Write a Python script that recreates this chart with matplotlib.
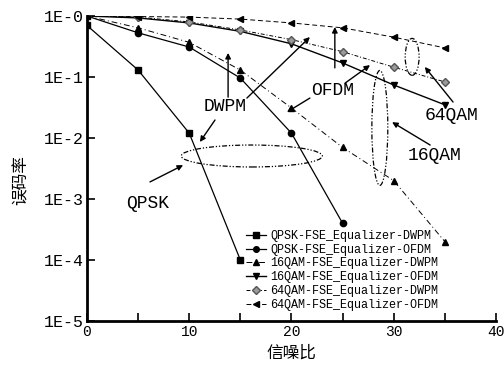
import matplotlib
matplotlib.use("Agg")
import matplotlib.pyplot as plt
from matplotlib.patches import Ellipse
import numpy as np

snr = [0, 5, 10, 15, 20, 25, 30, 35]

qpsk_dwpm_x = [0, 5, 10, 15]
qpsk_dwpm = [0.7, 0.13, 0.012, 1.0e-4]
qpsk_ofdm_x = [0, 5, 10, 15, 20, 25]
qpsk_ofdm = [1.0, 0.53, 0.31, 0.096, 0.012, 4.0e-4]
qam16_dwpm = [1.0, 0.64, 0.37, 0.13, 0.031, 0.007, 0.002, 2.0e-4]
qam16_ofdm = [1.0, 0.93, 0.77, 0.56, 0.35, 0.17, 0.074, 0.035]
qam64_dwpm = [1.0, 0.96, 0.80, 0.59, 0.41, 0.26, 0.145, 0.083]
qam64_ofdm = [1.0, 0.98, 0.96, 0.89, 0.77, 0.64, 0.45, 0.30]

labels = ["QPSK-FSE_Equalizer-DWPM", "QPSK-FSE_Equalizer-OFDM",
          "16QAM-FSE_Equalizer-DWPM", "16QAM-FSE_Equalizer-OFDM",
          "64QAM-FSE_Equalizer-DWPM", "64QAM-FSE_Equalizer-OFDM"]
ytick_vals = [1, 1e-1, 1e-2, 1e-3, 1e-4, 1e-5]
ytick_labels = ["1E-0", "1E-1", "1E-2", "1E-3", "1E-4", "1E-5"]
xtick_vals = [0, 10, 20, 30, 40]

mono = "Liberation Mono"
cjk = "Noto Sans CJK SC"

fig = plt.figure(figsize=(5.04, 3.68), dpi=100)
ax = fig.add_axes([0.1726, 0.1277, 0.8115, 0.8288])

ms = 4.5
ax.plot(qpsk_dwpm_x, qpsk_dwpm, color="black", lw=0.9, ls="-", marker="s", ms=ms, label=labels[0])
ax.plot(qpsk_ofdm_x, qpsk_ofdm, color="black", lw=0.9, ls="-", marker="o", ms=ms, label=labels[1])
ax.plot(snr, qam16_dwpm, color="black", lw=0.7, ls=(0, (6, 3, 1, 3)), marker="^", ms=ms, label=labels[2])
ax.plot(snr, qam16_ofdm, color="black", lw=1.0, ls="-", marker="v", ms=ms, label=labels[3])
ax.plot(snr, qam64_dwpm, color="black", lw=0.7, ls=(0, (4, 2, 1, 2)), marker="D", ms=4.0,
        markerfacecolor="#9a9a9a", markeredgecolor="#555555", label=labels[4])
ax.plot(snr, qam64_ofdm, color="black", lw=0.7, ls=(0, (5, 3)), marker="<", ms=ms, label=labels[5])

ax.set_yscale("log")
ax.set_xlim(0, 40)
ax.set_ylim(1e-5, 1)
ax.set_yticks(ytick_vals)
ax.set_yticklabels(ytick_labels, fontfamily=mono, fontsize=12)
ax.yaxis.set_minor_locator(matplotlib.ticker.NullLocator())
ax.set_xticks(xtick_vals)
ax.set_xticklabels([str(v) for v in xtick_vals], fontfamily=mono, fontsize=10.5)
ax.set_xticks([5, 15, 25, 35], minor=True)
ax.tick_params(axis="both", which="major", direction="in", length=6, width=1.2, pad=2)
ax.tick_params(axis="x", which="major", pad=3)
ax.tick_params(axis="x", which="minor", direction="in", length=6, width=1.2)
ax.spines["top"].set_visible(False)
ax.spines["right"].set_visible(False)
ax.spines["left"].set_linewidth(2)
ax.spines["bottom"].set_linewidth(2)

ax.set_ylabel("误码率", fontfamily=cjk, fontsize=12)
ax.yaxis.set_label_coords(-0.139, 0.462)
ax.set_xlabel("信噪比", fontfamily=cjk, fontsize=12, labelpad=4)

leg = ax.legend(loc="upper left", bbox_to_anchor=(0.375, 0.318), frameon=False,
                prop={"family": mono, "size": 8.5}, handlelength=1.7, handletextpad=0.3,
                labelspacing=0.15, borderpad=0, markerscale=0.9)

arrow = dict(arrowstyle="-|>", color="black", lw=1.0, mutation_scale=8, shrinkA=0, shrinkB=0)
tfont = dict(family=mono, fontsize=13, ha="center", va="center")

ax.text(0.337, 0.702, "DWPM", transform=ax.transAxes, **tfont)
ax.annotate("", xy=(0.345, 0.879), xytext=(0.345, 0.734), xycoords="axes fraction", arrowprops=arrow)
ax.annotate("", xy=(0.545, 0.931), xytext=(0.391, 0.731), xycoords="axes fraction", arrowprops=arrow)
ax.annotate("", xy=(0.276, 0.587), xytext=(0.313, 0.659), xycoords="axes fraction", arrowprops=arrow)

ax.text(0.601, 0.757, "OFDM", transform=ax.transAxes, **tfont)
ax.annotate("", xy=(0.692, 0.839), xytext=(0.631, 0.780), xycoords="axes fraction", arrowprops=arrow)
ax.annotate("", xy=(0.489, 0.685), xytext=(0.545, 0.731), xycoords="axes fraction", arrowprops=arrow)
ax.annotate("", xy=(0.606, 0.964), xytext=(0.606, 0.830), xycoords="axes fraction", arrowprops=arrow)

ax.text(0.892, 0.675, "64QAM", transform=ax.transAxes, **tfont)
ax.annotate("", xy=(0.826, 0.833), xytext=(0.895, 0.718), xycoords="axes fraction", arrowprops=arrow)

ax.text(0.851, 0.544, "16QAM", transform=ax.transAxes, **tfont)
ax.annotate("", xy=(0.746, 0.652), xytext=(0.839, 0.577), xycoords="axes fraction", arrowprops=arrow)

ax.text(0.149, 0.384, "QPSK", transform=ax.transAxes, **tfont)
ax.annotate("", xy=(0.235, 0.511), xytext=(0.154, 0.456), xycoords="axes fraction", arrowprops=arrow)

ell_style = dict(fill=False, edgecolor="black", lw=0.9, ls=(0, (4, 1.5, 1, 1.5, 1, 1.5)),
                 transform=ax.transAxes)
ax.add_patch(Ellipse((0.795, 0.866), 0.034, 0.121, **ell_style))
ax.add_patch(Ellipse((0.716, 0.633), 0.039, 0.377, **ell_style))
ax.add_patch(Ellipse((0.403, 0.541), 0.345, 0.072, **ell_style))

fig.savefig("out.png", dpi=100)
